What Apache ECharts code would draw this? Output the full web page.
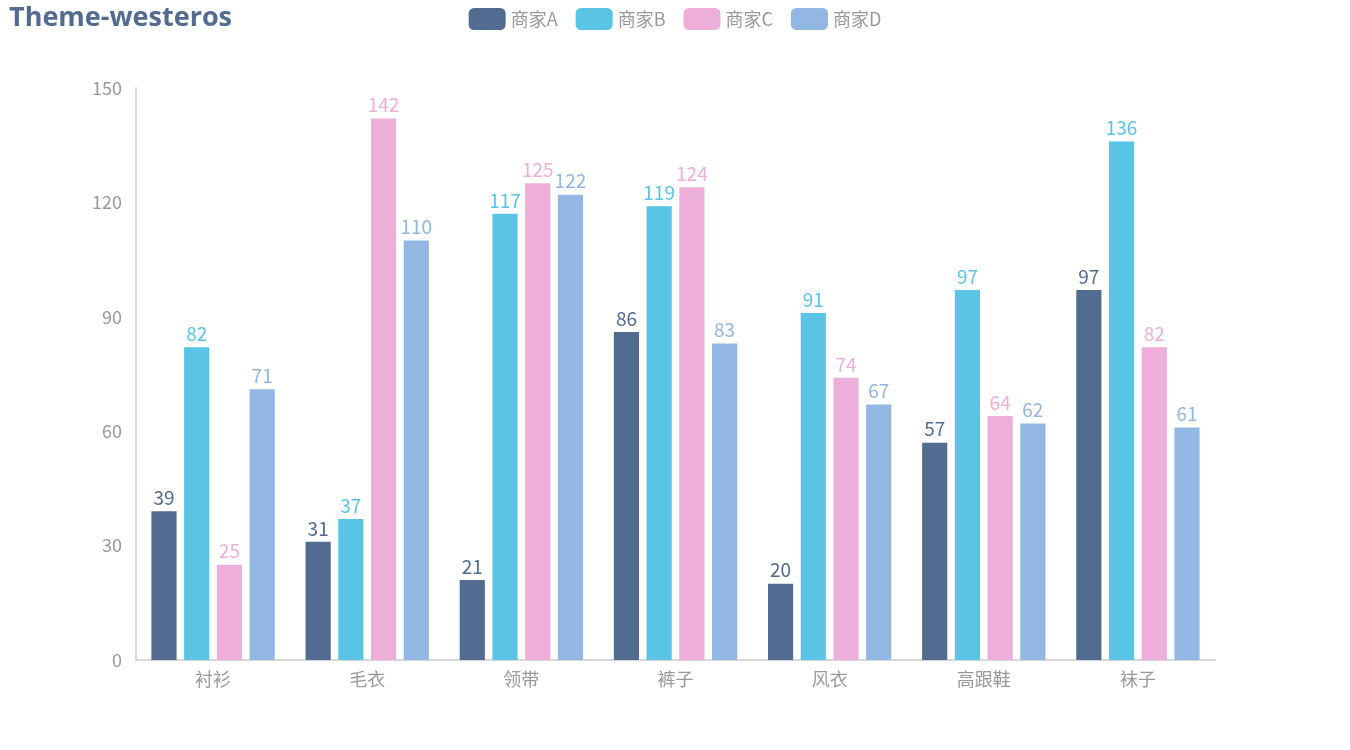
<!DOCTYPE html>
<html><head><meta charset="utf-8">
<script src="https://cdn.jsdelivr.net/npm/echarts@6/dist/echarts.min.js"></script>
<style>html,body{margin:0;padding:0;background:#fff}#c{width:1350px;height:750px}</style>
</head><body><div id="c"></div>
<script>
const categories = ['衬衫','毛衣','领带','裤子','风衣','高跟鞋','袜子'];
const seriesNames = ['商家A','商家B','商家C','商家D'];
const dataA = [39,31,21,86,20,57,97];
const dataB = [82,37,117,119,91,97,136];
const dataC = [25,142,125,124,74,64,82];
const dataD = [71,110,122,83,67,62,61];
const colors = ['#516b91','#59c4e6','#edafda','#93b7e3'];
const font = '"Microsoft YaHei","Noto Sans CJK SC",sans-serif';
const chart = echarts.init(document.getElementById('c'));
const all = [dataA,dataB,dataC,dataD];
chart.setOption({
  color: colors,
  textStyle:{fontFamily:font},
  title:{text:'Theme-westeros',left:4,top:0,textStyle:{color:'#516b91',fontSize:27,fontWeight:'bold',fontFamily:'"Open Sans","Segoe UI",sans-serif'}},
  legend:{top:3,left:'center',itemWidth:37,itemHeight:22,itemGap:18,textStyle:{color:'#999',fontSize:18,fontFamily:font},data:seriesNames},
  grid:{left:136,right:135,top:88,bottom:90},
  xAxis:{type:'category',data:categories,axisTick:{show:false},axisLine:{lineStyle:{color:'#ccc',width:1.5}},axisLabel:{color:'#999',fontSize:18,margin:10,fontFamily:font}},
  yAxis:{type:'value',min:0,max:150,interval:30,axisLine:{show:true,lineStyle:{color:'#ccc',width:1.5}},axisTick:{show:false},splitLine:{show:false},axisLabel:{color:'#999',fontSize:18,margin:14,fontFamily:font}},
  series: all.map((d,i)=>({name:seriesNames[i],type:'bar',data:d,barGap:'30%',barCategoryGap:'20%',
    label:{show:true,position:'top',color:colors[i],fontSize:19,distance:4,fontFamily:font}}))
});
</script></body></html>
